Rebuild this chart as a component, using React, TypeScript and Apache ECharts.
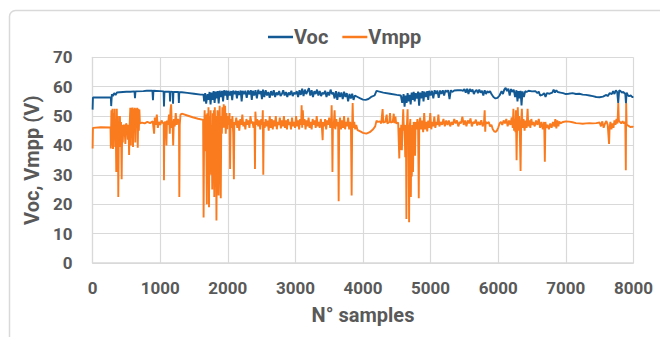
import React, { useEffect, useRef } from "react";
import * as echarts from "echarts";

const xTicks = [0, 1000, 2000, 3000, 4000, 5000, 6000, 7000, 8000];
const yTicks = [0, 10, 20, 30, 40, 50, 60, 70];
const seriesNames = ["Voc", "Vmpp"];

const vocPoints: [number, number][] = [
  [0, 52.2], [5, 56.3], [270, 56.3], [275, 53.4], [285, 57.4], [300, 56.8], [320, 57.8], [340, 57.2], [360, 58], [400, 58.1], [450, 58.2], [500, 58.3], [560, 58.3], [620, 58.4], [627, 56.1], [634, 58.4], [750, 58.5], [800, 58.6], [885, 58.6], [893, 55.4], [900, 58.6], [1000, 58.5], [1050, 58.4], [1056, 53.3], [1063, 58.3], [1100, 58.3], [1140, 58.3], [1146, 55], [1152, 58.3], [1185, 58.2], [1190, 54.2], [1196, 58.2], [1270, 58.2], [1276, 54.5], [1282, 58.1], [1320, 58.1], [1400, 57.9], [1500, 57.6], [1600, 57.3], [1640, 57.3],
  [1650, 55], [1665, 57.8], [1680, 54.2], [1700, 57.5], [1715, 55.5], [1730, 58.2], [1745, 54], [1760, 58], [1775, 55.5], [1790, 58.5], [1805, 54.5], [1820, 58.3], [1835, 56], [1850, 58.5], [1865, 54.3], [1880, 58.6], [1900, 56.5], [1915, 58.6], [1930, 55], [1945, 58.8], [1960, 57], [1980, 58.7], [1995, 55.5], [2010, 58.6],
  [2030, 57], [2050, 58.5], [2065, 55.4], [2080, 58.7], [2100, 57.5], [2120, 58.6], [2135, 56], [2150, 58.5], [2170, 57.2], [2190, 58.7], [2205, 55], [2220, 58.6], [2240, 57.5], [2260, 58.6], [2280, 56.2], [2300, 58.7], [2320, 57.4], [2340, 58.8], [2355, 55.5], [2370, 58.6], [2390, 57], [2410, 58.8], [2430, 56], [2450, 58.9], [2470, 57.5], [2490, 58.5], [2505, 55.8], [2520, 59], [2540, 56.5], [2560, 58.8], [2580, 57], [2600, 58.2], [2620, 56.2], [2640, 58.5], [2660, 57], [2680, 58.8], [2700, 56.5], [2720, 58], [2740, 57.2], [2760, 58.5], [2780, 56.8], [2800, 57.5], [2820, 58.8], [2840, 57], [2860, 58.2], [2880, 56.5], [2900, 58], [2920, 57.2], [2940, 58.6], [2960, 56.8], [2980, 58], [3000, 57.5],
  [3020, 58.5], [3040, 56.5], [3060, 58.8], [3080, 57.2], [3100, 59.3], [3120, 56.8], [3140, 59], [3160, 57.5], [3180, 58.5], [3200, 59.5], [3220, 57], [3240, 58.8], [3260, 56.5], [3280, 58.5], [3300, 57.5], [3320, 59], [3340, 57], [3360, 58.5], [3380, 56.8], [3400, 58], [3420, 57.5], [3440, 58.6], [3460, 56.5], [3480, 58.2], [3500, 57], [3520, 59], [3540, 57.5], [3560, 58], [3580, 56], [3600, 58.5], [3620, 55.5], [3640, 58.2], [3660, 56.5], [3680, 58], [3700, 55.8], [3720, 58.3], [3740, 56.5], [3760, 57.8], [3780, 55], [3800, 57.5], [3820, 56], [3840, 57.6], [3860, 55.5], [3880, 57],
  [3920, 56.5], [3960, 56], [4000, 55.6], [4040, 55.5], [4080, 55.8], [4120, 56.5], [4170, 57], [4200, 58.6], [4230, 58.4], [4300, 58], [4400, 57.6], [4500, 57.2], [4560, 57],
  [4580, 54.5], [4600, 57.5], [4615, 53.2], [4630, 57], [4645, 54.5], [4660, 57.8], [4675, 55], [4690, 57.2], [4705, 54], [4720, 58], [4735, 55.5], [4750, 58.2], [4765, 55], [4780, 57.8], [4800, 56], [4815, 58.3], [4830, 53.5], [4845, 58], [4860, 56], [4880, 58.5], [4895, 55], [4910, 58.3], [4930, 56.5], [4950, 58.5], [4965, 55.5], [4980, 58.6], [5000, 57],
  [5020, 58.6], [5040, 56], [5060, 58.8], [5080, 57.5], [5100, 58.7], [5120, 56.2], [5140, 58.7], [5160, 57.5], [5180, 58.8], [5200, 57], [5220, 58.8], [5240, 58.2], [5260, 58.8], [5280, 55.8], [5300, 58.8], [5320, 58.2], [5350, 58.7], [5400, 58.8], [5450, 58.8], [5480, 58.6], [5500, 59.2], [5520, 58], [5540, 59.3], [5560, 57.5], [5580, 59.2], [5600, 58.3], [5620, 59], [5640, 57.5], [5660, 58.5], [5680, 58.9], [5700, 57.8], [5720, 59], [5740, 58], [5760, 58.6], [5780, 57], [5800, 58.8], [5820, 57.5], [5840, 58.5], [5860, 58], [5880, 58.5], [5900, 57.5], [5930, 56.5], [5960, 56], [5990, 56.2], [6020, 57],
  [6050, 58.5], [6070, 57.5], [6090, 59], [6110, 59.6], [6130, 58.5], [6150, 59.3], [6170, 57], [6190, 59.2], [6210, 58.2], [6230, 59], [6250, 56.5], [6270, 58.8], [6285, 55], [6300, 58.5], [6315, 56], [6330, 58.6], [6345, 53.6], [6360, 58.4], [6380, 56.5], [6400, 58.5], [6420, 58.2], [6450, 58.6], [6500, 58.4], [6550, 58.5], [6580, 57.8], [6600, 58.3], [6620, 57], [6650, 57.2], [6680, 57.8], [6700, 56.5], [6720, 57.8], [6760, 57.6], [6800, 58], [6820, 59], [6840, 58], [6860, 58.8], [6880, 58.2], [6920, 58], [6960, 57.8], [7000, 57.5], [7040, 57.6], [7100, 57.8], [7150, 57.5], [7200, 57.6], [7250, 57.3], [7300, 57.2], [7350, 57], [7400, 56.8], [7450, 56.5], [7500, 56.4], [7550, 56.6], [7600, 57.2], [7620, 56.8], [7650, 57.8], [7680, 57.5], [7700, 58.5], [7720, 57.5], [7740, 58.8], [7760, 58.2], [7775, 54.5], [7790, 58.8], [7810, 58.5], [7830, 58], [7850, 58.2], [7880, 57.5], [7890, 54.4], [7900, 58], [7920, 57], [7935, 56.8], [7960, 57], [7980, 56.5], [8000, 56.5],
];

const vmppPoints: [number, number][] = [
  [0, 39], [5, 46], [120, 46.2], [265, 46.1],
  [270, 39], [278, 52], [286, 40], [294, 52.5], [302, 38.8], [310, 51], [318, 42], [326, 52.5], [334, 39.5], [342, 49], [350, 31], [358, 52.5], [366, 40], [374, 50], [380, 22.5], [388, 45], [396, 39.5], [404, 50], [412, 42], [420, 48], [430, 28.5], [438, 47], [446, 41], [455, 46.5],
  [470, 47], [485, 40.5], [495, 47.5], [510, 46.5], [522, 42], [532, 47], [540, 36.8], [548, 47], [558, 52.8], [566, 40], [574, 52.8], [582, 44], [590, 52.9], [598, 39.5], [606, 52.5], [615, 47], [624, 52.8], [632, 41], [640, 52.6], [650, 46], [660, 52.8], [668, 39.2], [676, 52.5], [684, 45], [692, 52.2], [700, 47.5],
  [730, 47.8], [770, 47.5], [810, 48], [850, 47.6], [890, 48.2], [910, 44], [920, 49.5], [935, 47], [950, 50.5], [965, 46], [980, 48], [1000, 47], [1020, 48.5], [1040, 47.5], [1052, 47.8], [1056, 28.2], [1061, 47.8], [1080, 48], [1092, 40], [1100, 48.5], [1115, 47], [1130, 50.5], [1142, 44], [1152, 52], [1162, 54], [1172, 46], [1182, 48.5], [1192, 40], [1202, 49], [1215, 46.5], [1230, 51], [1245, 47], [1260, 49], [1278, 48], [1283, 22.5], [1289, 47], [1300, 50.5], [1320, 50.8],
  [1400, 50.2], [1480, 49.6], [1560, 49.1], [1635, 48.7],
  [1642, 15.5], [1650, 46], [1658, 52], [1666, 38], [1674, 50.5], [1682, 42], [1690, 20], [1698, 51], [1706, 41], [1714, 53], [1722, 19], [1730, 50], [1738, 40], [1746, 52], [1754, 30], [1762, 47], [1770, 25], [1778, 51], [1786, 40], [1794, 52], [1800, 22.5], [1808, 53], [1816, 45], [1824, 50], [1832, 14.5], [1840, 42], [1848, 52], [1856, 30], [1864, 23], [1872, 48], [1880, 53.5], [1888, 38], [1896, 22], [1904, 50], [1912, 44], [1920, 53], [1930, 46], [1940, 54], [1950, 46], [1960, 53.5], [1970, 44], [1980, 51], [1992, 45.5], [2004, 50], [2016, 47], [2026, 51], [2034, 32], [2042, 49], [2055, 46], [2068, 50], [2080, 44], [2090, 28.5], [2096, 48],
  [2110, 47], [2125, 49.5], [2140, 46], [2155, 48.5], [2170, 45], [2185, 49], [2200, 47], [2215, 50.5], [2230, 46.5], [2245, 48], [2260, 45.5], [2275, 49], [2290, 47], [2305, 48.5], [2320, 46], [2335, 50], [2350, 47.5], [2365, 48.2], [2380, 46], [2395, 48], [2402, 32], [2408, 51.5], [2420, 47], [2435, 49], [2450, 46.5], [2465, 48.5], [2480, 45.5], [2495, 49], [2510, 47], [2518, 52], [2525, 30], [2532, 48], [2545, 46], [2560, 49], [2575, 46.5], [2590, 48.5], [2605, 45], [2620, 50],
  [2635, 46], [2650, 49], [2665, 45.5], [2680, 48.5], [2695, 46.5], [2710, 50], [2725, 45.5], [2740, 48], [2755, 47], [2770, 49.5], [2785, 45.8], [2800, 48.5], [2815, 46.5], [2830, 50], [2845, 46], [2860, 48.5], [2875, 45.5], [2890, 49], [2905, 47], [2920, 48], [2935, 45.5], [2950, 49.5], [2965, 46.5], [2980, 48], [2995, 46], [3010, 50], [3025, 46.5], [3040, 48.5], [3055, 45.5], [3070, 49], [3085, 47], [3092, 53.7], [3100, 46], [3110, 52], [3120, 47], [3135, 49], [3150, 45.5], [3165, 48.5], [3180, 46.5], [3195, 49.5], [3210, 46], [3225, 48], [3240, 45.5], [3255, 49], [3270, 47], [3285, 48.5], [3300, 46], [3315, 50], [3330, 46.5], [3345, 48], [3360, 46], [3375, 49], [3390, 47], [3403, 41.8], [3410, 48], [3425, 46.5], [3440, 49], [3455, 45.5], [3470, 48.5], [3485, 47], [3500, 49.5], [3515, 46], [3530, 48], [3536, 53.7], [3542, 47], [3548, 31], [3555, 47.5], [3565, 46], [3580, 52], [3590, 45.5], [3605, 49], [3620, 46.5], [3632, 48], [3640, 21], [3648, 47], [3660, 49.5], [3675, 45.5], [3690, 48.5], [3705, 46], [3720, 50], [3735, 45.5], [3750, 48], [3765, 46.5], [3780, 49.5], [3795, 45.5], [3810, 48], [3822, 46], [3832, 23], [3840, 47], [3847, 54.4], [3855, 46], [3870, 48], [3885, 45.5], [3900, 47], [3920, 45.2],
  [3960, 44.8], [4000, 44.3], [4050, 44], [4100, 44.5], [4150, 45.5], [4180, 46.5], [4200, 48.4], [4220, 48],
  [4250, 48.2], [4270, 47.5], [4290, 52.4], [4300, 47.8], [4330, 48], [4350, 50.5], [4360, 47.5], [4390, 48], [4400, 51], [4410, 47.8], [4440, 48], [4455, 50.8], [4465, 47.6], [4480, 49.8], [4490, 47.5], [4520, 47.8], [4537, 35.6], [4545, 46], [4555, 38.5], [4565, 47], [4575, 38.4], [4585, 46], [4595, 52.3], [4605, 45], [4615, 47], [4625, 36], [4635, 47], [4642, 15], [4650, 47], [4660, 52.3], [4668, 40], [4675, 47], [4682, 13.9], [4690, 46], [4700, 49], [4708, 22.5], [4715, 46], [4722, 29.4], [4730, 47], [4740, 31], [4750, 48], [4760, 46], [4770, 36.5], [4778, 48], [4790, 45.5], [4805, 49], [4815, 46], [4825, 22], [4832, 47], [4845, 49.5], [4860, 45.5], [4875, 48.5], [4890, 44.5], [4905, 51], [4920, 45.5], [4935, 48], [4950, 44.8], [4965, 48.5], [4980, 46], [4995, 51], [5010, 45.5], [5025, 48], [5040, 46.5], [5055, 49.8], [5070, 46], [5085, 48], [5100, 47], [5115, 50.5], [5130, 46.5], [5150, 48], [5170, 47], [5190, 49], [5210, 46.5], [5230, 48.5], [5250, 47], [5270, 48.5], [5290, 46.5], [5310, 48], [5330, 47], [5350, 49], [5370, 47.5], [5390, 48.5], [5410, 46.5], [5430, 48], [5450, 47.5], [5470, 49.8], [5490, 47], [5510, 48.5], [5530, 46.5], [5550, 48.5], [5570, 47.5], [5590, 49.2], [5610, 46.5], [5630, 48], [5650, 47.5], [5670, 48.8], [5690, 46.8], [5710, 48], [5730, 47], [5750, 48.6], [5770, 46.5], [5790, 48], [5800, 52], [5808, 44.7], [5815, 48], [5840, 47.5], [5860, 48], [5880, 46.5], [5900, 47], [5920, 45.5], [5940, 44.8], [5960, 44.6], [5980, 45], [6000, 46],
  [6020, 47.5], [6040, 48], [6060, 47], [6080, 48.5], [6100, 47.5], [6120, 49], [6140, 46.5], [6160, 48.5], [6180, 47], [6200, 49.5], [6215, 46], [6225, 52.5], [6235, 45], [6245, 49], [6255, 44.5], [6262, 52], [6272, 35], [6280, 47], [6290, 53], [6300, 45], [6310, 50], [6320, 44], [6331, 31.3], [6340, 48], [6350, 52.5], [6360, 46], [6375, 49], [6390, 45], [6405, 48.5], [6420, 46], [6435, 52.5], [6445, 46.5], [6460, 48.5], [6475, 46], [6490, 49], [6505, 47], [6520, 48], [6540, 46.5], [6560, 48.5], [6580, 47], [6600, 49], [6620, 46], [6640, 48], [6660, 45.5], [6680, 48], [6690, 34.5], [6698, 48], [6710, 46], [6730, 47], [6750, 45.5], [6770, 47.5], [6790, 46], [6810, 48], [6830, 46.5], [6845, 49], [6860, 45.8], [6875, 48.5], [6890, 46.5], [6905, 48.2], [6920, 47.5], [6960, 48], [7000, 48.2], [7050, 48.1], [7100, 47.9], [7150, 47.6], [7200, 47.5], [7250, 47.4], [7300, 47.5], [7350, 47.6], [7400, 47.5], [7450, 47.6], [7500, 47.8], [7520, 46.5], [7540, 48.2], [7560, 46], [7580, 47.5], [7600, 48.3], [7620, 47], [7640, 40.5], [7648, 46], [7660, 48], [7675, 45.5], [7690, 47.5], [7705, 46], [7720, 48.5], [7735, 47], [7750, 49], [7765, 47.5], [7776, 54.4], [7785, 48.5], [7800, 48], [7820, 47.5], [7840, 48.2], [7860, 47.5], [7880, 48], [7888, 31.6], [7893, 54.4], [7900, 47], [7920, 46.8], [7940, 46.5], [7960, 46.2], [7980, 46.4], [8000, 46.2],
];

const FONT = "Roboto, 'Open Sans', sans-serif";
const TXT = "#595959";
const GRID = "#D9D9D9";

export default function App() {
  const ref = useRef<HTMLDivElement>(null);
  useEffect(() => {
    if (!ref.current) return;
    const chart = echarts.init(ref.current, undefined, { renderer: "svg" });
    chart.setOption({
      animation: false,
      backgroundColor: "#ffffff",
      textStyle: { fontFamily: FONT },
      graphic: [
        {
          type: "rect",
          z: -1,
          shape: { x: 9.5, y: 10.5, width: 700, height: 400, r: 6 },
          style: { fill: "none", stroke: GRID, lineWidth: 1.5 },
        },
      ],
      legend: {
        data: seriesNames,
        left: 263,
        top: 22,
        icon: "rect",
        itemWidth: 25,
        itemHeight: 2.5,
        itemGap: 14,
        textStyle: { color: TXT, fontSize: 20, fontWeight: "bold", fontFamily: FONT, padding: [0, 0, 0, -4] },
      },
      grid: { left: 92.6, right: 26.6, top: 57.3, bottom: 74, containLabel: false },
      xAxis: {
        type: "value",
        min: xTicks[0],
        max: xTicks[xTicks.length - 1],
        interval: 1000,
        name: "N° samples",
        nameLocation: "middle",
        nameGap: 42,
        nameTextStyle: { color: TXT, fontSize: 20, fontWeight: "bold", fontFamily: FONT },
        axisLine: { show: true, lineStyle: { color: GRID, width: 1.5 } },
        axisTick: { show: false },
        splitLine: { show: true, lineStyle: { color: GRID, width: 1.2 } },
        axisLabel: {
          color: TXT,
          fontSize: 17,
          fontWeight: "bold",
          fontFamily: FONT,
          margin: 16,
          formatter: (v: number) => String(v),
        },
      },
      yAxis: {
        type: "value",
        min: yTicks[0],
        max: yTicks[yTicks.length - 1],
        interval: 10,
        name: "Voc, Vmpp (V)",
        nameLocation: "middle",
        nameGap: 44,
        nameTextStyle: { color: TXT, fontSize: 20, fontWeight: "bold", fontFamily: FONT },
        axisLine: { show: true, lineStyle: { color: GRID, width: 1.2 } },
        axisTick: { show: false },
        splitLine: { show: true, lineStyle: { color: GRID, width: 1.2 } },
        axisLabel: {
          color: TXT,
          fontSize: 17,
          fontWeight: "bold",
          fontFamily: FONT,
          margin: 20,
          formatter: (v: number) => String(v),
        },
      },
      series: [
        {
          name: seriesNames[0],
          type: "line",
          data: vocPoints,
          showSymbol: false,
          symbol: "none",
          lineStyle: { color: "#135A94", width: 1.9 },
          itemStyle: { color: "#135A94" },
          z: 3,
        },
        {
          name: seriesNames[1],
          type: "line",
          data: vmppPoints,
          showSymbol: false,
          symbol: "none",
          lineStyle: { color: "#FA7A1E", width: 1.9 },
          itemStyle: { color: "#FA7A1E" },
          z: 2,
        },
      ],
    });
    return () => chart.dispose();
  }, []);
  return (
    <div
      ref={ref}
      style={{ position: "fixed", left: 0, top: 0, width: 660, height: 337, background: "#fff" }}
    />
  );
}
